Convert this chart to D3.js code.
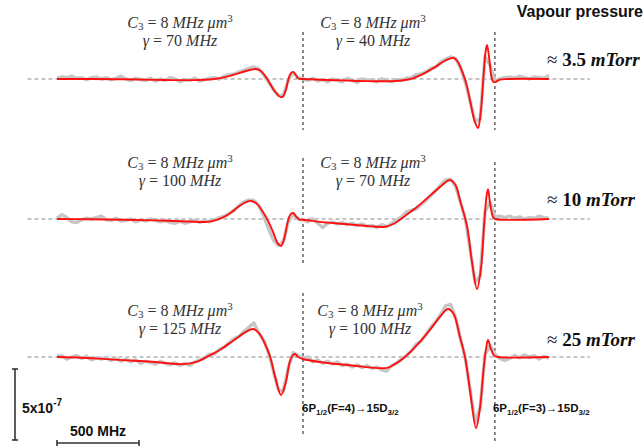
<!DOCTYPE html>
<html>
<head>
<meta charset="utf-8">
<script src="https://cdn.jsdelivr.net/npm/d3@7"></script>
<style>
  html, body { margin: 0; padding: 0; background: #fff; }
  svg { display: block; }
</style>
</head>
<body>
<svg id="chart" width="643" height="446"></svg>
<script>
// ---------------- DATA ----------------
// detuning axis (MHz), gray data sampled every 30 MHz from 0 to 3000
const sampleStep = 30;
// signal in units of 1e-7
const grayLow = [
  0.05, 0.15, 0.1, 0.2, 0.05, 0.1, -0.05, 0.1, 0.15, 0.0,
  0.1, -0.05, 0.05, 0.2, 0.0, -0.1, 0.05, -0.05, -0.1, 0.05,
  -0.15, 0.0, -0.1, 0.1, 0.0, -0.2, -0.05, -0.1, 0.05, -0.15,
  -0.05, 0.05, 0.1, 0.0, 0.2, 0.3, 0.35, 0.5, 0.6, 0.75,
  0.85, 0.7, 0.3, -0.2, -0.75, -1.15, -1.15, -0.1, 0.45, 0.1,
  0.0, -0.1, 0.05, -0.15, -0.05, -0.2, 0.0, -0.1, -0.2, 0.05,
  -0.1, -0.25, 0.0, -0.1, -0.05, -0.2, 0.0, -0.1, -0.2, -0.05,
  -0.1, 0.05, 0.1, 0.3, 0.35, 0.5, 0.75, 0.85, 1.2, 1.4,
  1.55, 1.45, 0.8, -0.2, -1.6, -3.0, -2.8, 1.6, 1.0, -0.15,
  0.0, 0.1, 0.15, 0.05, 0.2, 0.1, 0.0, 0.15, 0.1, 0.05, 0.25
];
const grayMid = [
  0.05, 0.3, 0.1, -0.2, -0.25, -0.05, 0.05, 0.0, 0.1, 0.2,
  -0.05, -0.1, 0.05, -0.15, -0.1, 0.0, -0.2, -0.05, -0.15, 0.0,
  -0.1, -0.2, -0.1, -0.25, -0.3, -0.15, -0.3, -0.2, -0.1, -0.25,
  -0.1, -0.2, -0.05, 0.1, 0.2, 0.4, 0.6, 0.95, 1.2, 1.35,
  1.3, 1.0, 0.2, -0.7, -1.5, -1.85, -1.6, -0.2, 0.35, 0.0,
  -0.05, -0.2, 0.0, -0.3, -0.6, -0.3, -0.2, -0.35, -0.25, -0.4,
  -0.3, -0.45, -0.35, -0.5, -0.45, -0.6, -0.4, -0.55, -0.3, -0.1,
  0.15, 0.5, 0.6, 0.7, 1.0, 1.3, 1.65, 2.0, 2.4, 2.75,
  2.8, 2.3, 1.2, 0.0, -2.2, -4.5, -4.0, 0.5, 1.2, 0.15,
  0.2, 0.1, 0.2, 0.05, 0.15, 0.0, 0.1, 0.05, 0.2, 0.1, 0.05
];
const grayHigh = [
  0.05, 0.1, -0.15, 0.0, 0.1, -0.1, 0.05, -0.2, -0.05, -0.15,
  -0.05, -0.25, -0.1, -0.3, -0.15, -0.35, -0.2, -0.45, -0.3, -0.4,
  -0.5, -0.3, -0.45, -0.55, -0.4, -0.6, -0.45, -0.6, -0.35, -0.2,
  -0.05, 0.2, 0.2, 0.55, 0.7, 1.0, 1.3, 1.45, 1.8, 2.1,
  2.4, 1.7, 1.2, 0.3, -1.0, -2.3, -2.4, -0.8, 0.3, 0.1,
  -0.1, 0.0, -0.35, -0.2, -0.45, -0.3, -0.5, -0.35, -0.6, -0.5,
  -0.7, -0.55, -0.75, -0.6, -0.8, -0.7, -0.9, -1.0, -0.6, -0.45,
  -0.15, 0.1, 0.4, 0.9, 1.1, 1.6, 2.1, 2.5, 3.0, 3.6,
  3.7, 2.8, 1.3, -0.1, -2.4, -4.6, -3.6, 0.2, 0.8, 0.2,
  -0.1, -0.25, -0.1, 0.1, -0.05, 0.15, 0.0, 0.1, -0.15, 0.05, -0.1
];

// fitted model curves: [MHz, signal (1e-7)]
const fitLow = [
  [0,0],[200,0],[400,-0.02],[600,-0.06],[800,-0.08],[950,-0.02],[1050,0.2],[1120,0.45],
  [1180,0.65],[1210,0.7],[1240,0.6],[1270,0.2],[1300,-0.35],[1330,-0.9],[1360,-1.25],
  [1375,-1.27],[1395,-0.8],[1410,-0.05],[1425,0.4],[1440,0.5],[1455,0.3],[1470,0.05],
  [1485,0],[1500,0],[1600,-0.05],[1750,-0.1],[1900,-0.15],[2050,-0.15],[2150,-0.02],
  [2230,0.35],[2300,0.8],[2360,1.25],[2400,1.45],[2420,1.48],[2445,1.2],[2470,0.55],
  [2495,-0.3],[2520,-1.6],[2545,-2.9],[2567,-3.45],[2585,-2.2],[2600,0.1],[2612,1.8],
  [2622,2.4],[2635,1.5],[2648,0.2],[2660,-0.2],[2675,-0.2],[2700,-0.05],[2750,0],[3000,0]
];
const fitMid = [
  [0,0],[200,-0.02],[400,-0.05],[600,-0.1],[800,-0.18],[920,-0.2],[980,-0.05],[1050,0.35],
  [1110,0.9],[1160,1.22],[1185,1.27],[1215,1.1],[1250,0.6],[1290,-0.2],[1320,-1.0],
  [1345,-1.7],[1366,-1.9],[1385,-1.4],[1405,-0.3],[1422,0.3],[1440,0.42],[1460,0.15],
  [1480,-0.05],[1500,-0.05],[1600,-0.2],[1750,-0.35],[1900,-0.5],[2000,-0.55],[2060,-0.3],
  [2120,0.2],[2200,0.9],[2280,1.7],[2350,2.4],[2396,2.75],[2430,2.4],[2460,1.2],
  [2500,-0.5],[2530,-3.0],[2561,-4.93],[2585,-3.5],[2605,-0.3],[2618,1.5],[2628,2.1],
  [2642,1.0],[2660,0.1],[2672,0],[3000,0]
];
const fitHigh = [
  [0,0],[150,-0.05],[300,-0.15],[450,-0.25],[600,-0.35],[770,-0.5],[850,-0.35],[920,0.05],
  [1000,0.55],[1080,1.2],[1150,1.75],[1195,1.97],[1230,1.7],[1265,1.0],[1300,0],
  [1330,-1.4],[1366,-2.68],[1395,-1.8],[1420,-0.3],[1440,0.15],[1452,0.21],[1470,0],
  [1500,-0.14],[1600,-0.35],[1800,-0.6],[2012,-0.77],[2060,-0.5],[2122,0],[2200,0.9],
  [2280,2.0],[2340,2.9],[2384,3.38],[2420,3.0],[2455,1.5],[2488,0],[2520,-2.5],
  [2555,-5.0],[2580,-3.5],[2600,-1.0],[2615,0.5],[2628,1.2],[2645,0.6],[2665,0.1],
  [2690,0],[3000,0]
];

const pressures = ["3.5", "10", "25"];
const c3Values = ["8", "8", "8"];
const gammaLeft = ["70", "100", "125"];
const gammaRight = ["40", "70", "100"];
const transitionF4 = 1500;   // MHz position of 6P1/2(F=4)->15D3/2
const transitionF3 = 2670;   // MHz position of 6P1/2(F=3)->15D3/2
const scaleBarSignal = 5;    // 5 x 1e-7
const scaleBarFreq = 500;    // MHz

// ---------------- LAYOUT ----------------
const svg = d3.select("#chart");
const x = d3.scaleLinear().domain([0, 3000]).range([57, 549]);
const pxPerUnit = 14.2;
const panelBase = [79, 219, 357];
const panels = [
  { gray: grayLow, fit: fitLow },
  { gray: grayMid, fit: fitMid },
  { gray: grayHigh, fit: fitHigh }
];

const mathFont = "'Liberation Serif', 'DejaVu Serif', serif";
const sansFont = "'Liberation Sans', Arial, sans-serif";

// vertical transition lines (segmented like original)
const vSegments = [
  { f: transitionF4, y0: 32, y1: 130 },
  { f: transitionF4, y0: 158, y1: 264 },
  { f: transitionF4, y0: 293, y1: 436 },
  { f: transitionF3, y0: 32, y1: 130 },
  { f: transitionF3, y0: 162, y1: 443 }
];
svg.append("g").selectAll("line").data(vSegments).join("line")
  .attr("x1", d => x(d.f)).attr("x2", d => x(d.f))
  .attr("y1", d => d.y0).attr("y2", d => d.y1)
  .attr("stroke", "#555").attr("stroke-width", 1.4)
  .attr("stroke-dasharray", "3,3");

panels.forEach((p, i) => {
  const base = panelBase[i];
  const y = d3.scaleLinear().domain([-5, 5]).range([base + 5 * pxPerUnit, base - 5 * pxPerUnit]);
  const g = svg.append("g");

  // dashed zero baseline
  g.append("line")
    .attr("x1", x(-180)).attr("x2", x(3250))
    .attr("y1", y(0)).attr("y2", y(0))
    .attr("stroke", "#8a8a8a").attr("stroke-width", 1)
    .attr("stroke-dasharray", "4,3");

  // measured data (gray)
  const grayLine = d3.line()
    .x((d, j) => x(j * sampleStep))
    .y(d => y(d))
    .curve(d3.curveLinear);
  g.append("path").datum(p.gray)
    .attr("d", grayLine)
    .attr("fill", "none")
    .attr("stroke", "#c6c6c6")
    .attr("stroke-width", 3.4)
    .attr("stroke-linejoin", "round");

  // fit (red)
  const fitLine = d3.line()
    .x(d => x(d[0]))
    .y(d => y(d[1]))
    .curve(d3.curveCatmullRom.alpha(0.5));
  g.append("path").datum(p.fit)
    .attr("d", fitLine)
    .attr("fill", "none")
    .attr("stroke", "#ff1010")
    .attr("stroke-width", 1.9);
});

// math annotations
function mathLabel(cx, yBase, c3, gamma) {
  const t1 = svg.append("text")
    .attr("x", cx).attr("y", yBase)
    .attr("text-anchor", "middle")
    .attr("font-family", mathFont).attr("font-size", 16).attr("fill", "#333");
  t1.append("tspan").attr("font-style", "italic").text("C");
  t1.append("tspan").attr("font-size", 11).attr("dy", 2).text("3");
  t1.append("tspan").attr("dy", -2).text(" = " + c3 + " ");
  t1.append("tspan").attr("font-style", "italic").text("MHz μm");
  t1.append("tspan").attr("font-size", 11).attr("dy", -6).text("3");

  const t2 = svg.append("text")
    .attr("x", cx).attr("y", yBase + 18)
    .attr("text-anchor", "middle")
    .attr("font-family", mathFont).attr("font-size", 16).attr("fill", "#333");
  t2.append("tspan").attr("font-style", "italic").text("γ");
  t2.append("tspan").text(" = " + gamma + " ");
  t2.append("tspan").attr("font-style", "italic").text("MHz");
}
const labelTop = [28, 168, 316];
const rightCx = [373, 373, 370];
for (let i = 0; i < 3; i++) {
  mathLabel(180, labelTop[i], c3Values[i], gammaLeft[i]);
  mathLabel(rightCx[i], labelTop[i], c3Values[i], gammaRight[i]);
}

// pressure labels
svg.append("text")
  .attr("x", 643).attr("y", 17).attr("text-anchor", "end")
  .attr("font-family", sansFont).attr("font-weight", "bold")
  .attr("font-size", 16).attr("fill", "#111")
  .text("Vapour pressure");
const pressY = [66, 206, 346];
pressures.forEach((pv, i) => {
  const t = svg.append("text")
    .attr("x", 547).attr("y", pressY[i])
    .attr("font-family", mathFont).attr("font-size", 19).attr("fill", "#111");
  t.append("tspan").text("≈ ");
  t.append("tspan").attr("font-weight", "bold").text(pv + " ");
  t.append("tspan").attr("font-weight", "bold").attr("font-style", "italic").text("mTorr");
});

// transition labels
function transLabel(xp, F) {
  const t = svg.append("text")
    .attr("x", xp).attr("y", 412)
    .attr("font-family", sansFont).attr("font-weight", "bold")
    .attr("font-size", 11.5).attr("fill", "#111");
  t.append("tspan").text("6P");
  t.append("tspan").attr("font-size", 8).attr("dy", 3).text("1/2");
  t.append("tspan").attr("dy", -3).text("(F=" + F + ")→15D");
  t.append("tspan").attr("font-size", 8).attr("dy", 3).text("3/2");
}
transLabel(x(transitionF4) - 1, 4);
transLabel(x(transitionF3) - 2, 3);

// scale bars
const ySB = d3.scaleLinear().domain([0, scaleBarSignal]).range([440, 440 - scaleBarSignal * pxPerUnit]);
const sb = svg.append("g").attr("stroke", "#333").attr("stroke-width", 1.6);
sb.append("line").attr("x1", 15).attr("x2", 15).attr("y1", ySB(0)).attr("y2", ySB(scaleBarSignal));
sb.append("line").attr("x1", 12).attr("x2", 18).attr("y1", ySB(0)).attr("y2", ySB(0));
sb.append("line").attr("x1", 12).attr("x2", 18).attr("y1", ySB(scaleBarSignal)).attr("y2", ySB(scaleBarSignal));
const xs0 = x(0), xs1 = x(scaleBarFreq);
sb.append("line").attr("x1", xs0).attr("x2", xs1).attr("y1", 443).attr("y2", 443);
sb.append("line").attr("x1", xs0).attr("x2", xs0).attr("y1", 440).attr("y2", 446);
sb.append("line").attr("x1", xs1).attr("x2", xs1).attr("y1", 440).attr("y2", 446);

const sbt = svg.append("text")
  .attr("x", 22).attr("y", 413)
  .attr("font-family", sansFont).attr("font-weight", "bold")
  .attr("font-size", 14).attr("fill", "#111");
sbt.append("tspan").text("5x10");
sbt.append("tspan").attr("font-size", 10).attr("dy", -7).text("-7");

svg.append("text")
  .attr("x", (xs0 + xs1) / 2).attr("y", 436).attr("text-anchor", "middle")
  .attr("font-family", sansFont).attr("font-weight", "bold")
  .attr("font-size", 14).attr("fill", "#111")
  .text(scaleBarFreq + " MHz");
</script>
</body>
</html>
